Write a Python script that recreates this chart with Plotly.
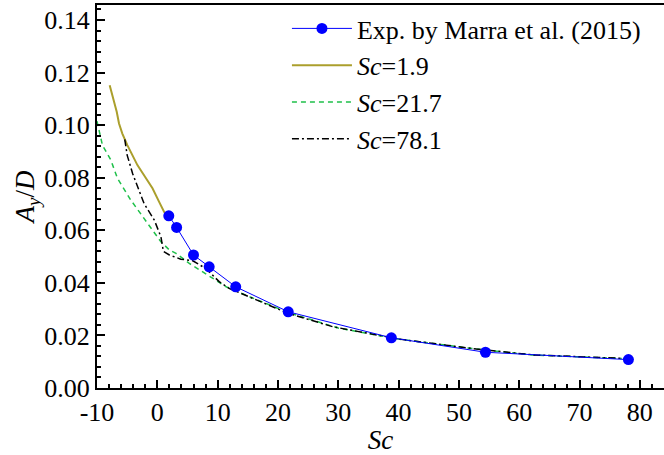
import plotly.graph_objects as go

# Experimental data (Marra et al. 2015)
exp_sc = [1.9, 3.2, 6.0, 8.6, 13.0, 21.7, 38.8, 54.4, 78.1]
exp_ay = [0.0655, 0.0611, 0.0506, 0.0461, 0.0385, 0.0290, 0.0191, 0.0136, 0.0108]

# Sc = 1.9 curve
sc19_x = [-7.9, -7.46, -7.06, -6.73, -6.35, -5.8, -4.97, -4.14, -3.3, -2.5, -1.65, -0.8, 0.3, 1.13, 1.8]
sc19_y = [0.1152, 0.1114, 0.1089, 0.1051, 0.1006, 0.0968, 0.0924, 0.0886, 0.0848, 0.0820, 0.0790, 0.0760, 0.0708, 0.0670, 0.0655]

# Sc = 21.7 curve
sc217_x = [-10.0, -9.1, -7.7, -6.6, -4.4, -3.0, -1.65, -0.5, 0.6, 2.0, 3.1, 5.3, 8.0, 11.4,
           15.0, 21.7, 30.0, 40.0, 53.0, 62.0, 77.0]
sc217_y = [0.1015, 0.0924, 0.0867, 0.0797, 0.0715, 0.0670, 0.0626, 0.0588, 0.0556, 0.0525, 0.0512, 0.0474, 0.0436, 0.0385,
           0.0350, 0.0287, 0.0228, 0.0186, 0.0148, 0.0126, 0.0112]

# Sc = 78.1 curve
sc781_x = [-5.4, -5.0, -4.1, -3.3, -2.2, -0.5, 0.6, 1.0, 2.0, 3.9, 5.8, 8.0, 10.3, 11.9,
           15.2, 21.7, 29.1, 38.8, 40.1, 52.9, 62.3, 76.7, 78.1]
sc781_y = [0.0946, 0.0886, 0.0816, 0.0765, 0.0702, 0.0639, 0.0575, 0.0520, 0.0506, 0.0490, 0.0485, 0.0455, 0.0404, 0.0379,
           0.0347, 0.0284, 0.0233, 0.0189, 0.0186, 0.0148, 0.0126, 0.0113, 0.0108]

# Axis tick labels
x_tickvals = [-10, 0, 10, 20, 30, 40, 50, 60, 70, 80]
x_ticktext = ["-10", "0", "10", "20", "30", "40", "50", "60", "70", "80"]

FONT = "Liberation Serif, Times New Roman, serif"

fig = go.Figure()
fig.add_trace(go.Scatter(x=sc19_x, y=sc19_y, mode="lines", name="<i>Sc</i>=1.9",
                         line=dict(color="#ab9f2c", width=2), legendrank=2))
fig.add_trace(go.Scatter(x=sc217_x, y=sc217_y, mode="lines", name="<i>Sc</i>=21.7",
                         line=dict(color="#1fc04a", width=1.5, dash="5px,4px"), legendrank=3))
fig.add_trace(go.Scatter(x=sc781_x, y=sc781_y, mode="lines", name="<i>Sc</i>=78.1",
                         line=dict(color="black", width=1.5, dash="7px,3px,2px,3px"), legendrank=4))
fig.add_trace(go.Scatter(x=exp_sc, y=exp_ay, mode="lines+markers", name="Exp. by Marra et al. (2015)",
                         line=dict(color="#0000ff", width=1),
                         marker=dict(color="#0000ff", size=11), legendrank=1))

axis_common = dict(
    showgrid=False, zeroline=False, showline=True, linecolor="black", linewidth=2,
    ticks="inside", ticklen=8, tickwidth=1.5, tickcolor="black",
    tickfont=dict(family=FONT, size=26, color="black"),
)

fig.update_xaxes(range=[-10, 84], tickvals=x_tickvals, ticktext=x_ticktext, mirror=True,
                 minor=dict(dtick=2, tick0=0, ticks="inside", ticklen=4, tickwidth=1.5, tickcolor="black"),
                 title=dict(text="<i>Sc</i>", font=dict(family=FONT, size=27, color="black"), standoff=6),
                 **axis_common)
fig.update_yaxes(range=[0, 0.1457], dtick=0.02, tick0=0, tickformat=".2f",
                 minor=dict(dtick=0.004, ticks="inside", ticklen=4, tickwidth=1.5, tickcolor="black"),
                 title=dict(text="<i>A</i><sub><i>y</i></sub>/<i>D</i>",
                            font=dict(family=FONT, size=27, color="black"), standoff=2),
                 **axis_common)

fig.update_layout(
    width=664, height=455,
    margin=dict(l=97, r=0, t=5, b=67),
    plot_bgcolor="white", paper_bgcolor="white",
    font=dict(family=FONT, color="black"),
    legend=dict(x=0.335, y=1.0, xanchor="left", yanchor="top",
                font=dict(family=FONT, size=26, color="black"),
                bgcolor="rgba(0,0,0,0)", itemwidth=60, tracegroupgap=0),
    showlegend=True,
)

fig.write_html("out.html")
